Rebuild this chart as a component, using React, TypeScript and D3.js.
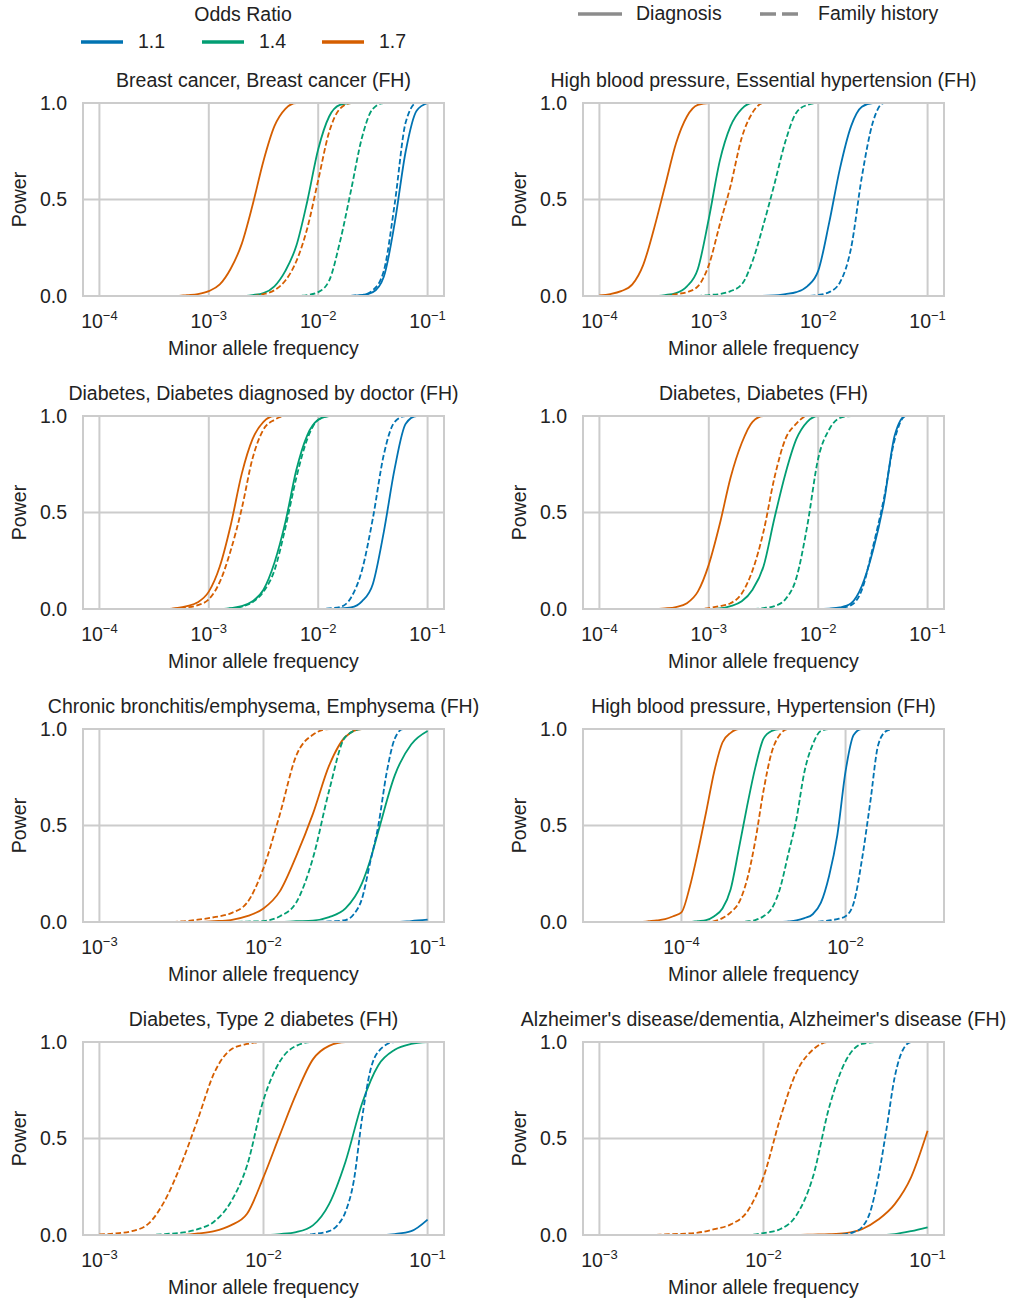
import React from 'react'
import * as d3 from 'd3'

const WIDTH = 1010
const HEIGHT = 1302
const FONT = '"Liberation Sans", Arial, Helvetica, sans-serif'
const FS = 19.5

// colours follow the odds ratio, dash style follows the phenotype source
const oddsRatios = ['1.1', '1.4', '1.7']
const colors = ['#0173b2', '#029e73', '#d55e00']
const sources = ['Diagnosis', 'Family history']

const titles = [
  'Breast cancer, Breast cancer (FH)',
  'High blood pressure, Essential hypertension (FH)',
  'Diabetes, Diabetes diagnosed by doctor (FH)',
  'Diabetes, Diabetes (FH)',
  'Chronic bronchitis/emphysema, Emphysema (FH)',
  'High blood pressure, Hypertension (FH)',
  'Diabetes, Type 2 diabetes (FH)',
  "Alzheimer's disease/dementia, Alzheimer's disease (FH)"
]

const mafRanges = [
  [1e-4, 1e-1], [1e-4, 1e-1], [1e-4, 1e-1], [1e-4, 1e-1],
  [1e-3, 1e-1], [1e-5, 1e-1], [1e-3, 1e-1], [1e-3, 1e-1]
]

const xTicks = [
  [1e-4, 1e-3, 1e-2, 1e-1], [1e-4, 1e-3, 1e-2, 1e-1],
  [1e-4, 1e-3, 1e-2, 1e-1], [1e-4, 1e-3, 1e-2, 1e-1],
  [1e-3, 1e-2, 1e-1], [1e-4, 1e-2], [1e-3, 1e-2, 1e-1], [1e-3, 1e-2, 1e-1]
]

const yTicks = [0, 0.5, 1]

// [minor allele frequency, power]
const breastDx11 = [[1e-4, 0], [0.0158, 0], [0.0251, 0.005], [0.0316, 0.02], [0.0398, 0.1], [0.0501, 0.38], [0.0631, 0.75], [0.0794, 0.96], [0.1, 1]]
const breastDx14 = [[1e-4, 0], [2e-3, 0], [2.51e-3, 0.005], [3.16e-3, 0.015], [3.98e-3, 0.05], [5.01e-3, 0.13], [6.31e-3, 0.26], [7.94e-3, 0.49], [0.01, 0.76], [0.0126, 0.93], [0.0158, 0.99], [0.02, 1], [0.1, 1]]
const breastDx17 = [[1e-4, 0], [5.01e-4, 0], [6.31e-4, 0.005], [7.94e-4, 0.01], [1e-3, 0.025], [1.26e-3, 0.06], [1.58e-3, 0.14], [2e-3, 0.27], [2.51e-3, 0.47], [3.16e-3, 0.7], [3.98e-3, 0.88], [5.01e-3, 0.97], [6.31e-3, 1], [0.1, 1]]
const breastFh11 = [[1e-4, 0], [0.0158, 0], [0.0251, 0.005], [0.0316, 0.03], [0.0398, 0.13], [0.0501, 0.48], [0.0631, 0.9], [0.0794, 1], [0.1, 1]]
const breastFh14 = [[1e-4, 0], [6.31e-3, 0], [7.94e-3, 0.005], [0.01, 0.02], [0.0126, 0.08], [0.0158, 0.28], [0.02, 0.55], [0.0251, 0.82], [0.0316, 0.97], [0.0398, 1], [0.1, 1]]
const breastFh17 = [[1e-4, 0], [2.51e-3, 0], [3.16e-3, 0.01], [3.98e-3, 0.03], [5.01e-3, 0.08], [6.31e-3, 0.18], [7.94e-3, 0.35], [0.01, 0.6], [0.0126, 0.85], [0.0158, 0.97], [0.02, 1], [0.1, 1]]

const essHypDx11 = [[1e-4, 0], [2.51e-3, 0], [3.98e-3, 0.003], [5.01e-3, 0.01], [6.31e-3, 0.02], [7.94e-3, 0.05], [0.01, 0.13], [0.0126, 0.38], [0.0158, 0.66], [0.02, 0.88], [0.0251, 0.98], [0.0316, 1], [0.1, 1]]
const essHypDx14 = [[1e-4, 0], [3.16e-4, 0], [3.98e-4, 0.005], [5.01e-4, 0.015], [6.31e-4, 0.05], [7.94e-4, 0.14], [1e-3, 0.4], [1.26e-3, 0.7], [1.58e-3, 0.88], [2e-3, 0.97], [2.51e-3, 1], [0.1, 1]]
const essHypDx17 = [[1e-4, 0.003], [1.26e-4, 0.01], [1.58e-4, 0.025], [2e-4, 0.06], [2.51e-4, 0.16], [3.16e-4, 0.35], [3.98e-4, 0.57], [5.01e-4, 0.79], [6.31e-4, 0.93], [7.94e-4, 0.99], [1e-3, 1], [0.1, 1]]
const essHypFh11 = [[1e-4, 0], [7.94e-3, 0], [0.01, 0.005], [0.0126, 0.02], [0.0158, 0.07], [0.02, 0.25], [0.0251, 0.62], [0.0316, 0.9], [0.0398, 1], [0.1, 1]]
const essHypFh14 = [[1e-4, 0], [7.94e-4, 0], [1e-3, 0.005], [1.26e-3, 0.01], [1.58e-3, 0.025], [2e-3, 0.06], [2.51e-3, 0.18], [3.16e-3, 0.37], [3.98e-3, 0.58], [5.01e-3, 0.8], [6.31e-3, 0.95], [7.94e-3, 0.99], [0.01, 1], [0.1, 1]]
const essHypFh17 = [[1e-4, 0], [3.98e-4, 0], [5.01e-4, 0.01], [6.31e-4, 0.02], [7.94e-4, 0.05], [1e-3, 0.16], [1.26e-3, 0.37], [1.58e-3, 0.57], [2e-3, 0.82], [2.51e-3, 0.95], [3.16e-3, 1], [0.1, 1]]

const diabDocDx11 = [[1e-4, 0], [0.0126, 0], [0.0158, 0.002], [0.02, 0.008], [0.0251, 0.04], [0.0316, 0.13], [0.0398, 0.4], [0.0501, 0.73], [0.0631, 0.96], [0.0794, 1], [0.1, 1]]
const diabDocDx14 = [[1e-4, 0], [1.26e-3, 0], [1.58e-3, 0.005], [2e-3, 0.015], [2.51e-3, 0.04], [3.16e-3, 0.1], [3.98e-3, 0.24], [5.01e-3, 0.45], [6.31e-3, 0.72], [7.94e-3, 0.9], [0.01, 0.98], [0.0126, 1], [0.1, 1]]
const diabDocDx17 = [[1e-4, 0], [3.98e-4, 0], [5.01e-4, 0.005], [6.31e-4, 0.015], [7.94e-4, 0.035], [1e-3, 0.09], [1.26e-3, 0.22], [1.58e-3, 0.43], [2e-3, 0.7], [2.51e-3, 0.88], [3.16e-3, 0.97], [3.98e-3, 1], [0.1, 1]]
const diabDocFh11 = [[1e-4, 0], [0.01, 0], [0.0126, 0.003], [0.0158, 0.01], [0.02, 0.06], [0.0251, 0.2], [0.0316, 0.47], [0.0398, 0.8], [0.0501, 0.97], [0.0631, 1], [0.1, 1]]
const diabDocFh14 = [[1e-4, 0], [1.26e-3, 0], [1.58e-3, 0.003], [2e-3, 0.012], [2.51e-3, 0.035], [3.16e-3, 0.09], [3.98e-3, 0.2], [5.01e-3, 0.42], [6.31e-3, 0.68], [7.94e-3, 0.88], [0.01, 0.98], [0.0126, 1], [0.1, 1]]
const diabDocFh17 = [[1e-4, 0], [3.98e-4, 0], [5.01e-4, 0.003], [6.31e-4, 0.008], [7.94e-4, 0.02], [1e-3, 0.05], [1.26e-3, 0.14], [1.58e-3, 0.3], [2e-3, 0.52], [2.51e-3, 0.78], [3.16e-3, 0.93], [3.98e-3, 0.98], [5.01e-3, 1], [0.1, 1]]

const diabDx11 = [[1e-4, 0], [0.01, 0], [0.0126, 0.002], [0.0158, 0.008], [0.02, 0.03], [0.0251, 0.12], [0.0316, 0.3], [0.0398, 0.55], [0.0501, 0.9], [0.0631, 1], [0.1, 1]]
const diabDx14 = [[1e-4, 0], [1e-3, 0], [1.26e-3, 0.003], [1.58e-3, 0.015], [2e-3, 0.04], [2.51e-3, 0.1], [3.16e-3, 0.22], [3.98e-3, 0.47], [5.01e-3, 0.7], [6.31e-3, 0.88], [7.94e-3, 0.97], [0.01, 1], [0.1, 1]]
const diabDx17 = [[1e-4, 0], [3.16e-4, 0], [3.98e-4, 0.003], [5.01e-4, 0.01], [6.31e-4, 0.03], [7.94e-4, 0.09], [1e-3, 0.23], [1.26e-3, 0.44], [1.58e-3, 0.68], [2e-3, 0.86], [2.51e-3, 0.97], [3.16e-3, 1], [0.1, 1]]
const diabFh11 = [[1e-4, 0], [0.0126, 0], [0.0158, 0.005], [0.02, 0.02], [0.0251, 0.1], [0.0316, 0.32], [0.0398, 0.57], [0.0501, 0.88], [0.0631, 1], [0.1, 1]]
const diabFh14 = [[1e-4, 0], [2.51e-3, 0], [3.16e-3, 0.005], [3.98e-3, 0.015], [5.01e-3, 0.05], [6.31e-3, 0.16], [7.94e-3, 0.43], [0.01, 0.78], [0.0126, 0.93], [0.0158, 0.99], [0.02, 1], [0.1, 1]]
const diabFh17 = [[1e-4, 0], [7.94e-4, 0], [1e-3, 0.005], [1.26e-3, 0.015], [1.58e-3, 0.03], [2e-3, 0.08], [2.51e-3, 0.2], [3.16e-3, 0.4], [3.98e-3, 0.68], [5.01e-3, 0.88], [6.31e-3, 0.96], [7.94e-3, 1], [0.1, 1]]

const emphDx11 = [[1e-3, 0], [0.0631, 0], [0.0794, 0.005], [0.1, 0.012]]
const emphDx14 = [[1e-3, 0], [0.0126, 0], [0.0158, 0.004], [0.02, 0.007], [0.0251, 0.025], [0.0316, 0.07], [0.0398, 0.2], [0.0447, 0.32], [0.0501, 0.47], [0.0631, 0.76], [0.0794, 0.92], [0.1, 0.99]]
const emphDx17 = [[1e-3, 0], [3.98e-3, 0], [5.01e-3, 0.004], [6.31e-3, 0.01], [7.94e-3, 0.03], [0.01, 0.07], [0.0126, 0.16], [0.0158, 0.34], [0.02, 0.56], [0.0251, 0.81], [0.0316, 0.96], [0.0398, 1], [0.1, 1]]
const emphFh11 = [[1e-3, 0], [0.02, 0], [0.0251, 0.003], [0.0316, 0.01], [0.0355, 0.04], [0.0398, 0.12], [0.0447, 0.31], [0.0501, 0.5], [0.0562, 0.77], [0.0631, 0.95], [0.0708, 1], [0.1, 1]]
const emphFh14 = [[1e-3, 0], [6.31e-3, 0], [7.94e-3, 0.002], [0.01, 0.005], [0.0126, 0.03], [0.0158, 0.1], [0.02, 0.33], [0.0251, 0.68], [0.0316, 0.96], [0.0398, 1], [0.1, 1]]
const emphFh17 = [[1e-3, 0], [2.51e-3, 0], [3.16e-3, 0.003], [3.98e-3, 0.012], [5.01e-3, 0.025], [6.31e-3, 0.045], [7.94e-3, 0.1], [0.01, 0.28], [0.0126, 0.56], [0.0158, 0.86], [0.02, 0.97], [0.0251, 1], [0.1, 1]]

const hypDx11 = [[1e-5, 0], [1.58e-3, 0], [2e-3, 0.003], [2.51e-3, 0.008], [3.16e-3, 0.02], [3.98e-3, 0.04], [5.01e-3, 0.1], [6.31e-3, 0.24], [7.94e-3, 0.45], [0.01, 0.78], [0.0126, 0.97], [0.0158, 1], [0.1, 1]]
const hypDx14 = [[1e-5, 0], [1.26e-4, 0], [1.58e-4, 0.005], [2e-4, 0.01], [2.51e-4, 0.03], [3.16e-4, 0.07], [3.98e-4, 0.17], [5.01e-4, 0.38], [6.31e-4, 0.6], [7.94e-4, 0.8], [1e-3, 0.95], [1.26e-3, 0.99], [1.58e-3, 1], [0.1, 1]]
const hypDx17 = [[1e-5, 0], [3.16e-5, 0], [3.98e-5, 0.004], [5.01e-5, 0.008], [6.31e-5, 0.015], [7.94e-5, 0.03], [1e-4, 0.05], [1.26e-4, 0.18], [1.58e-4, 0.36], [2e-4, 0.57], [2.51e-4, 0.78], [3.16e-4, 0.93], [3.98e-4, 0.98], [5.01e-4, 1], [0.1, 1]]
const hypFh11 = [[1e-5, 0], [3.98e-3, 0], [5.01e-3, 0.003], [6.31e-3, 0.008], [7.94e-3, 0.015], [0.01, 0.03], [0.0126, 0.1], [0.0158, 0.32], [0.02, 0.62], [0.0251, 0.92], [0.0316, 0.99], [0.0398, 1], [0.1, 1]]
const hypFh14 = [[1e-5, 0], [5.01e-4, 0], [6.31e-4, 0.003], [7.94e-4, 0.01], [1e-3, 0.03], [1.26e-3, 0.07], [1.58e-3, 0.17], [2e-3, 0.35], [2.51e-3, 0.53], [3.16e-3, 0.78], [3.98e-3, 0.92], [5.01e-3, 0.99], [6.31e-3, 1], [0.1, 1]]
const hypFh17 = [[1e-5, 0], [2e-4, 0], [2.51e-4, 0.005], [3.16e-4, 0.02], [3.98e-4, 0.05], [5.01e-4, 0.1], [6.31e-4, 0.22], [7.94e-4, 0.42], [1e-3, 0.68], [1.26e-3, 0.88], [1.58e-3, 0.97], [2e-3, 1], [0.1, 1]]

const t2dDx11 = [[1e-3, 0], [0.0501, 0], [0.0631, 0.005], [0.0794, 0.02], [0.1, 0.08]]
const t2dDx14 = [[1e-3, 0], [0.01, 0], [0.0126, 0.005], [0.0158, 0.015], [0.02, 0.05], [0.0251, 0.16], [0.0316, 0.38], [0.0398, 0.68], [0.0501, 0.88], [0.0631, 0.96], [0.0794, 0.99], [0.1, 1]]
const t2dDx17 = [[1e-3, 0], [3.16e-3, 0], [3.98e-3, 0.008], [5.01e-3, 0.02], [6.31e-3, 0.05], [7.94e-3, 0.11], [0.01, 0.3], [0.0126, 0.52], [0.0158, 0.73], [0.02, 0.91], [0.0251, 0.98], [0.0316, 1], [0.1, 1]]
const t2dFh11 = [[1e-3, 0], [0.0158, 0], [0.02, 0.005], [0.0251, 0.02], [0.0282, 0.05], [0.0316, 0.12], [0.0355, 0.28], [0.0398, 0.6], [0.0447, 0.85], [0.0501, 0.95], [0.0631, 1], [0.1, 1]]
const t2dFh14 = [[1e-3, 0], [2e-3, 0], [2.51e-3, 0.005], [3.16e-3, 0.012], [3.98e-3, 0.03], [5.01e-3, 0.07], [6.31e-3, 0.17], [7.94e-3, 0.36], [0.01, 0.7], [0.0126, 0.9], [0.0158, 0.98], [0.02, 1], [0.1, 1]]
const t2dFh17 = [[1e-3, 0.003], [1.26e-3, 0.008], [1.58e-3, 0.02], [2e-3, 0.06], [2.51e-3, 0.18], [3.16e-3, 0.37], [3.98e-3, 0.6], [5.01e-3, 0.84], [6.31e-3, 0.96], [7.94e-3, 0.99], [0.01, 1], [0.1, 1]]

const alzDx11 = [[1e-3, 0], [0.1, 0]]
const alzDx14 = [[1e-3, 0], [0.0501, 0], [0.0631, 0.005], [0.0794, 0.02], [0.1, 0.04]]
const alzDx17 = [[1e-3, 0], [0.0158, 0], [0.02, 0.002], [0.0251, 0.004], [0.0316, 0.01], [0.0398, 0.03], [0.0501, 0.08], [0.0631, 0.16], [0.0794, 0.3], [0.1, 0.54]]
const alzFh11 = [[1e-3, 0], [0.0251, 0], [0.0316, 0.005], [0.0355, 0.015], [0.0398, 0.04], [0.0447, 0.12], [0.0501, 0.3], [0.0562, 0.55], [0.0631, 0.82], [0.0708, 0.96], [0.0794, 1], [0.1, 1]]
const alzFh14 = [[1e-3, 0], [7.94e-3, 0], [0.01, 0.01], [0.0126, 0.03], [0.0158, 0.1], [0.02, 0.3], [0.0251, 0.66], [0.0316, 0.9], [0.0398, 0.99], [0.0501, 1], [0.1, 1]]
const alzFh17 = [[1e-3, 0], [2e-3, 0], [2.51e-3, 0.003], [3.16e-3, 0.006], [3.98e-3, 0.012], [5.01e-3, 0.03], [6.31e-3, 0.055], [7.94e-3, 0.12], [0.01, 0.3], [0.0126, 0.6], [0.0158, 0.84], [0.02, 0.96], [0.0251, 1], [0.1, 1]]

// per panel: diagnosis 1.1/1.4/1.7 then family history 1.1/1.4/1.7
const panelCurves = [
  [breastDx11, breastDx14, breastDx17, breastFh11, breastFh14, breastFh17],
  [essHypDx11, essHypDx14, essHypDx17, essHypFh11, essHypFh14, essHypFh17],
  [diabDocDx11, diabDocDx14, diabDocDx17, diabDocFh11, diabDocFh14, diabDocFh17],
  [diabDx11, diabDx14, diabDx17, diabFh11, diabFh14, diabFh17],
  [emphDx11, emphDx14, emphDx17, emphFh11, emphFh14, emphFh17],
  [hypDx11, hypDx14, hypDx17, hypFh11, hypFh14, hypFh17],
  [t2dDx11, t2dDx14, t2dDx17, t2dFh11, t2dFh14, t2dFh17],
  [alzDx11, alzDx14, alzDx17, alzFh11, alzFh14, alzFh17]
]

const PW = 361
const PH = 193
const colLeft = [83, 583]
const rowTop = [103, 416, 729, 1042]
const GRID = '#cccccc'
const TEXT = '#222222'
const DASH = '5.5,2.6'

function Panel({ index }: { index: number }) {
  const left = colLeft[index % 2]
  const top = rowTop[Math.floor(index / 2)]
  const [lo, hi] = mafRanges[index]
  const pad = (Math.log10(hi) - Math.log10(lo)) * 0.05
  const x = d3
    .scaleLog()
    .domain([lo / 10 ** pad, hi * 10 ** pad])
    .range([0, PW])
  const y = d3.scaleLinear().domain([0, 1]).range([PH, 0])
  const line = d3
    .line<number[]>()
    .x(d => x(d[0]))
    .y(d => y(d[1]))
    .curve(d3.curveMonotoneX)

  return (
    <g transform={`translate(${left},${top})`}>
      <text x={PW / 2} y={-16} textAnchor="middle" fontSize={FS} fill={TEXT}>
        {titles[index]}
      </text>
      {xTicks[index].map(t => (
        <line key={'gx' + t} x1={x(t)} x2={x(t)} y1={0} y2={PH} stroke={GRID} strokeWidth={2} />
      ))}
      {yTicks.map(t => (
        <line key={'gy' + t} x1={0} x2={PW} y1={y(t)} y2={y(t)} stroke={GRID} strokeWidth={2} />
      ))}
      {panelCurves[index].map((c, i) => (
        <path
          key={'c' + i}
          d={line(c) || ''}
          fill="none"
          stroke={colors[i % 3]}
          strokeWidth={1.8}
          strokeDasharray={i >= 3 ? DASH : undefined}
          strokeLinejoin="round"
        />
      ))}
      <rect x={0} y={0} width={PW} height={PH} fill="none" stroke={GRID} strokeWidth={2} />
      {yTicks.map(t => (
        <text key={'ty' + t} x={-16} y={y(t)} dy="0.35em" textAnchor="end" fontSize={FS} fill={TEXT}>
          {t.toFixed(1)}
        </text>
      ))}
      {xTicks[index].map(t => (
        <text key={'tx' + t} x={x(t)} y={PH + 32} textAnchor="middle" fontSize={FS} fill={TEXT}>
          10
          <tspan dy={-8} fontSize={13}>
            {'\u2212' + Math.abs(Math.round(Math.log10(t)))}
          </tspan>
        </text>
      ))}
      <text x={PW / 2} y={PH + 59} textAnchor="middle" fontSize={FS} fill={TEXT}>
        Minor allele frequency
      </text>
      <text
        transform={`translate(-57,${PH / 2}) rotate(-90)`}
        textAnchor="middle"
        fontSize={FS}
        fill={TEXT}
      >
        Power
      </text>
    </g>
  )
}

function Legend() {
  const orX = [81, 202, 322]
  return (
    <g>
      <text x={243} y={21} textAnchor="middle" fontSize={FS} fill={TEXT}>
        Odds Ratio
      </text>
      {oddsRatios.map((o, i) => (
        <g key={o}>
          <line x1={orX[i]} x2={orX[i] + 42} y1={42} y2={42} stroke={colors[i]} strokeWidth={3.6} />
          <text x={orX[i] + 57} y={48} fontSize={FS} fill={TEXT}>
            {o}
          </text>
        </g>
      ))}
      {sources.map((s, i) => {
        const lx = i === 0 ? 578 : 760
        return (
          <g key={s}>
            <line
              x1={lx}
              x2={lx + 44}
              y1={14}
              y2={14}
              stroke="#8c8c8c"
              strokeWidth={3.6}
              strokeDasharray={i === 1 ? '16,6' : undefined}
            />
            <text x={lx + 58} y={20} fontSize={FS} fill={TEXT}>
              {s}
            </text>
          </g>
        )
      })}
    </g>
  )
}

export default function App() {
  return (
    <svg
      width={WIDTH}
      height={HEIGHT}
      style={{ position: 'absolute', left: 0, top: 0, background: '#ffffff' }}
      fontFamily={FONT}
    >
      <rect width={WIDTH} height={HEIGHT} fill="#ffffff" />
      <Legend />
      {titles.map((t, i) => (
        <Panel key={t} index={i} />
      ))}
    </svg>
  )
}
